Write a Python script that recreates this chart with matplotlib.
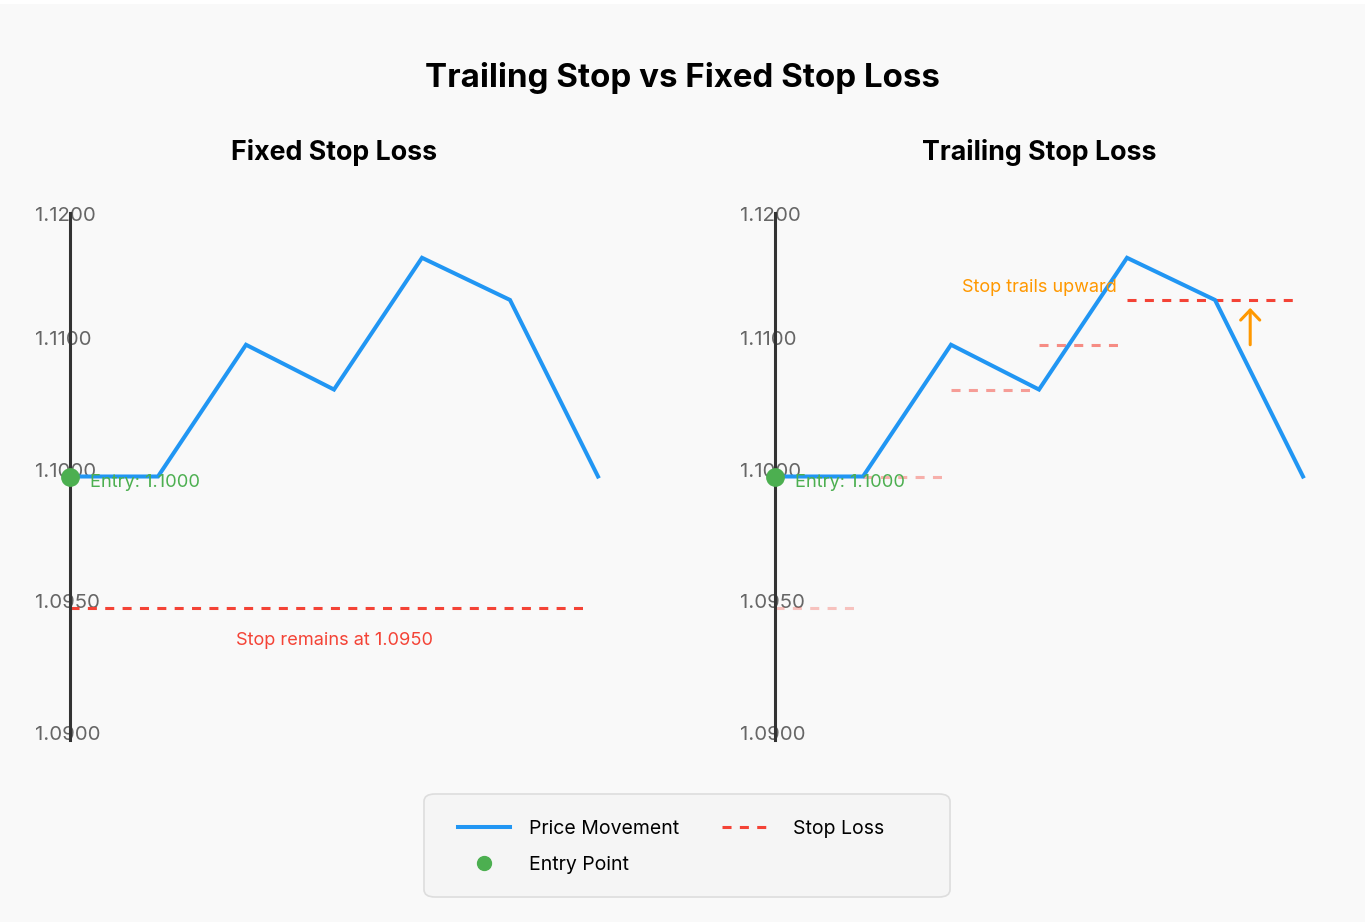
import matplotlib
matplotlib.use("Agg")
import matplotlib.pyplot as plt
from matplotlib.patches import FancyBboxPatch, Rectangle

plt.rcParams['font.family'] = ['Inter', 'DejaVu Sans']
plt.rcParams['lines.scale_dashes'] = False

# price path and stops
steps = [0, 1, 2, 3, 4, 5, 6]
price = [1.1000, 1.1000, 1.1050, 1.1033, 1.1083, 1.1067, 1.1000]
entry_price = 1.1000
fixed_stop = 1.0950
fixed_stop_end = 5.9

trail_start = [0, 1, 2, 3, 4]
trail_end = [0.9, 1.9, 2.9, 3.9, 5.9]
trail_level = [1.0950, 1.1000, 1.1033, 1.1050, 1.1067]
trail_alpha = [0.3, 0.4, 0.5, 0.6, 1.0]

tick_pos = [1.1097, 1.1050, 1.1000, 1.0950, 1.0900]
tick_labels = ['1.1200', '1.1100', '1.1000', '1.0950', '1.0900']

BLUE = '#2196F3'
RED = '#F44336'
GREEN = '#4CAF50'
ORANGE = '#FF9800'
BG = '#f9f9f9'

W, H = 1365, 922
fig = plt.figure(figsize=(W / 100, H / 100), dpi=100, facecolor=BG)
fig.patches.append(Rectangle((0, 1 - 4 / H), 1, 4 / H, transform=fig.transFigure,
                             facecolor='white', edgecolor='none'))

ax1 = fig.add_axes([70 / W, 1 - 740 / H, 528 / W, 527 / H])
ax2 = fig.add_axes([775 / W, 1 - 740 / H, 528 / W, 527 / H])


def base_axes(ax, title):
    ax.set_facecolor('none')
    ax.set_xlim(0, 6)
    ax.set_ylim(1.0900, 1.1100)
    for s in ['top', 'right', 'bottom']:
        ax.spines[s].set_visible(False)
    ax.spines['left'].set_color('#333333')
    ax.spines['left'].set_linewidth(2.2)
    ax.set_xticks([])
    ax.set_yticks(tick_pos, tick_labels)
    ax.tick_params(axis='y', length=0, pad=25.2, labelsize=14.7, labelcolor='#666666')
    for lab in ax.get_yticklabels():
        lab.set_ha('left')
        lab.set_va('baseline')
    ax.set_axisbelow(True)
    ax.set_title(title, fontsize=19.3, fontweight='bold', pad=38)


def draw_price(ax):
    ln, = ax.plot(steps, price, color=BLUE, lw=2.9, clip_on=False, zorder=3,
                  solid_joinstyle='miter', label='Price Movement')
    dot, = ax.plot([steps[0]], [entry_price], 'o', color=GREEN, ms=12.5,
                   clip_on=False, zorder=4, label='Entry Point')
    ax.annotate(f'Entry: {entry_price:.4f}', (steps[0], entry_price),
                xytext=(14.4, -7.2), textcoords='offset points',
                ha='left', va='baseline', color=GREEN, fontsize=13.2, zorder=5)
    return ln, dot


# Fixed stop
base_axes(ax1, 'Fixed Stop Loss')
ln, dot = draw_price(ax1)
stop, = ax1.plot([0, fixed_stop_end], [fixed_stop, fixed_stop], color=RED, lw=2.2,
                 dashes=(6.5, 6), clip_on=False, zorder=2, label='Stop Loss')
ax1.annotate(f'Stop remains at {fixed_stop:.4f}', (3, fixed_stop),
             xytext=(0, -26.5), textcoords='offset points',
             ha='center', va='baseline', color=RED, fontsize=13.1)

# Trailing stop
base_axes(ax2, 'Trailing Stop Loss')
draw_price(ax2)
for x0, x1, lvl, a in zip(trail_start, trail_end, trail_level, trail_alpha):
    ax2.plot([x0, x1], [lvl, lvl], color=RED, lw=2.2, dashes=(6.5, 6),
             alpha=a, clip_on=False, zorder=2)
ax2.annotate('Stop trails upward', (3, trail_level[-1]),
             xytext=(0, 5.5), textcoords='offset points',
             ha='center', va='baseline', color=ORANGE, fontsize=13)
ax2.annotate('', xy=(5.4, 1.1064), xytext=(5.4, 1.1050),
             arrowprops=dict(arrowstyle='->,head_length=0.45,head_width=0.43',
                             color=ORANGE, lw=2.2, mutation_scale=16,
                             shrinkA=0, shrinkB=0))

fig.suptitle('Trailing Stop vs Fixed Stop Loss', fontsize=23.8, fontweight='bold',
             x=0.5, y=1 - 78 / H, va='center')

# legend box
fig.patches.append(FancyBboxPatch((424 / W, 1 - 897 / H), 526 / W, 103 / H,
                                  boxstyle='round,pad=0,rounding_size=0.008',
                                  transform=fig.transFigure, facecolor='#f5f5f5',
                                  edgecolor='#dddddd', lw=1.2, zorder=0))
fig.legend(handles=[ln, dot, stop], ncol=2, frameon=False, loc='upper left',
           bbox_to_anchor=(458 / W, 1 - 820 / H), borderpad=0, borderaxespad=0,
           fontsize=14, handlelength=2.7, handletextpad=0.95, columnspacing=2.2,
           labelspacing=0.92, markerscale=0.8)

fig.savefig('out.png', dpi=100, facecolor=fig.get_facecolor())
